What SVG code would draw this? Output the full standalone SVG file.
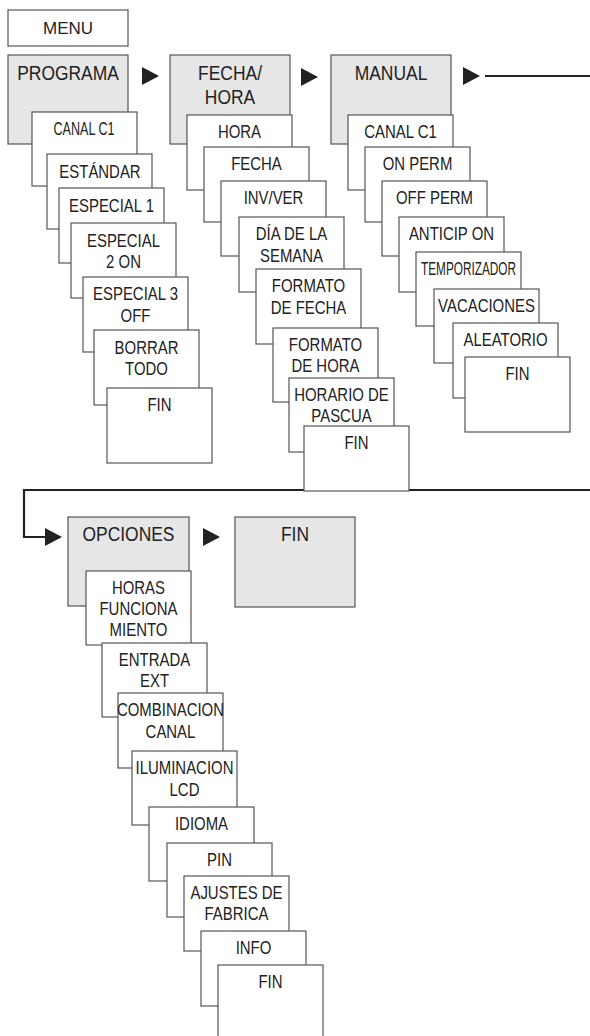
<svg xmlns="http://www.w3.org/2000/svg" width="590" height="1036" viewBox="0 0 590 1036">
<style>
.hd{fill:#e6e6e7;stroke:#555;stroke-width:1.2}
.cd{fill:#fff;stroke:#555;stroke-width:1.2}
.mn{fill:#fff;stroke:#555;stroke-width:1.2}
text{font-family:"Liberation Sans Narrow","Liberation Sans",Arial,sans-serif;fill:#222;text-anchor:middle}
.t{font-size:18px;transform-box:fill-box;transform-origin:center;transform:scaleX(0.83)}
.h{font-size:21px;transform-box:fill-box;transform-origin:center;transform:scaleX(0.83)}
.t0{font-size:18px}
.conn{fill:none;stroke:#222;stroke-width:2.2}
.tri{fill:#222}
</style>
<defs>
<polygon id="tri" points="0,0 17,9 0,18"/>
</defs>
<rect width="590" height="1036" fill="#fff"/>
<g id="menu"><rect class="mn" x="8" y="10" width="120" height="36"/><text x="68" y="34" style="font-size:17px">MENU</text></g>

<g id="connectors">
<path class="conn" d="M485,76 H596 V490 H24 V537 H47"/>
<use href="#tri" class="tri" x="142" y="67"/>
<use href="#tri" class="tri" x="301" y="68"/>
<use href="#tri" class="tri" x="463" y="67"/>
<use href="#tri" class="tri" x="45" y="528"/>
<use href="#tri" class="tri" x="203" y="528"/>
</g>

<!-- PROGRAMA column -->
<g id="programa"><rect class="hd" x="8" y="55" width="120" height="89"/><text class="h" x="68" y="80">PROGRAMA</text></g>
<g id="p-canal"><rect class="cd" x="32" y="112" width="105" height="74"/><text class="t0" x="84" y="135" textLength="61" lengthAdjust="spacingAndGlyphs">CANAL C1</text></g>
<g id="p-estandar"><rect class="cd" x="47" y="154" width="105" height="75"/><text class="t" x="100" y="178">ESTÁNDAR</text></g>
<g id="p-esp1"><rect class="cd" x="59" y="188" width="105" height="75"/><text class="t" x="111.5" y="212">ESPECIAL 1</text></g>
<g id="p-esp2"><rect class="cd" x="71" y="223" width="105" height="75"/><text class="t" x="123.5" y="247">ESPECIAL</text><text class="t" x="123.5" y="268.5">2 ON</text></g>
<g id="p-esp3"><rect class="cd" x="83" y="277" width="105" height="75"/><text class="t" x="135.5" y="300.5">ESPECIAL 3</text><text class="t" x="135.5" y="322.5">OFF</text></g>
<g id="p-borrar"><rect class="cd" x="94" y="330" width="105" height="75"/><text class="t" x="146.5" y="354">BORRAR</text><text class="t" x="146.5" y="375.5">TODO</text></g>
<g id="p-fin"><rect class="cd" x="107" y="388" width="105" height="75"/><text class="t" x="159.5" y="411.5">FIN</text></g>

<!-- FECHA/HORA column -->
<g id="fecha-hora"><rect class="hd" x="170" y="55" width="120" height="89"/><text class="h" x="230" y="80">FECHA/</text><text class="h" x="230" y="104">HORA</text></g>
<g id="f-hora"><rect class="cd" x="187" y="115" width="105" height="75"/><text class="t" x="239.5" y="138.5">HORA</text></g>
<g id="f-fecha"><rect class="cd" x="204" y="147" width="105" height="75"/><text class="t" x="256.5" y="170.5">FECHA</text></g>
<g id="f-invver"><rect class="cd" x="221" y="181" width="105" height="75"/><text class="t" x="273.5" y="204.5">INV/VER</text></g>
<g id="f-dia"><rect class="cd" x="239" y="217" width="105" height="75"/><text class="t" x="291.5" y="240.5">DÍA DE LA</text><text class="t" x="291.5" y="262">SEMANA</text></g>
<g id="f-fmtfecha"><rect class="cd" x="256" y="269" width="105" height="75"/><text class="t" x="308.5" y="292.5">FORMATO</text><text class="t" x="308.5" y="314">DE FECHA</text></g>
<g id="f-fmthora"><rect class="cd" x="273" y="328" width="105" height="74"/><text class="t" x="325.5" y="351">FORMATO</text><text class="t" x="325.5" y="372.5">DE HORA</text></g>
<g id="f-pascua"><rect class="cd" x="289" y="378" width="105" height="74"/><text class="t" x="341.5" y="401">HORARIO DE</text><text class="t" x="341.5" y="422.5">PASCUA</text></g>
<g id="f-fin"><rect class="cd" x="304" y="426" width="105" height="65"/><text class="t" x="356.5" y="449.5">FIN</text></g>

<!-- MANUAL column -->
<g id="manual"><rect class="hd" x="331" y="55" width="120" height="89"/><text class="h" x="391" y="80">MANUAL</text></g>
<g id="m-canal"><rect class="cd" x="348" y="115" width="105" height="75"/><text class="t" x="400.5" y="138.5">CANAL C1</text></g>
<g id="m-onperm"><rect class="cd" x="365" y="147" width="105" height="75"/><text class="t" x="417.5" y="170.5">ON PERM</text></g>
<g id="m-offperm"><rect class="cd" x="382" y="181" width="105" height="75"/><text class="t" x="434.5" y="204.5">OFF PERM</text></g>
<g id="m-anticip"><rect class="cd" x="399" y="217" width="105" height="75"/><text class="t" x="451.5" y="240.5">ANTICIP ON</text></g>
<g id="m-temp"><rect class="cd" x="416" y="252" width="105" height="74"/><text class="t0" x="468.5" y="275" textLength="95" lengthAdjust="spacingAndGlyphs">TEMPORIZADOR</text></g>
<g id="m-vac"><rect class="cd" x="434" y="289" width="105" height="74"/><text class="t" x="486.5" y="312.5">VACACIONES</text></g>
<g id="m-alea"><rect class="cd" x="453" y="323" width="105" height="75"/><text class="t" x="505.5" y="346.5">ALEATORIO</text></g>
<g id="m-fin"><rect class="cd" x="465" y="357" width="105" height="75"/><text class="t" x="517.5" y="380.5">FIN</text></g>

<!-- OPCIONES column -->
<g id="opciones"><rect class="hd" x="68" y="517" width="121" height="89"/><text class="h" x="128.5" y="541">OPCIONES</text></g>
<g id="fin-header"><rect class="hd" x="235" y="517" width="120" height="90"/><text class="h" x="295" y="541.5">FIN</text></g>
<g id="o-horas"><rect class="cd" x="86" y="571" width="105" height="74"/><text class="t" x="138.5" y="594">HORAS</text><text class="t" x="138.5" y="615">FUNCIONA</text><text class="t" x="138.5" y="636">MIENTO</text></g>
<g id="o-entrada"><rect class="cd" x="102" y="643" width="105" height="74"/><text class="t" x="154.5" y="666">ENTRADA</text><text class="t" x="154.5" y="687.5">EXT</text></g>
<g id="o-comb"><rect class="cd" x="118" y="693" width="105" height="75"/><text class="t" x="170.5" y="716.5">COMBINACION</text><text class="t" x="170.5" y="738">CANAL</text></g>
<g id="o-ilum"><rect class="cd" x="132" y="751" width="105" height="74"/><text class="t" x="184.5" y="774.5">ILUMINACION</text><text class="t" x="184.5" y="796">LCD</text></g>
<g id="o-idioma"><rect class="cd" x="149" y="807" width="105" height="74"/><text class="t" x="201.5" y="830">IDIOMA</text></g>
<g id="o-pin"><rect class="cd" x="167" y="843" width="105" height="74"/><text class="t" x="219.5" y="866">PIN</text></g>
<g id="o-ajustes"><rect class="cd" x="184" y="876" width="105" height="75"/><text class="t" x="236.5" y="899">AJUSTES DE</text><text class="t" x="236.5" y="920.5">FABRICA</text></g>
<g id="o-info"><rect class="cd" x="201" y="931" width="105" height="75"/><text class="t" x="253.5" y="954">INFO</text></g>
<g id="o-fin"><rect class="cd" x="218" y="965" width="105" height="80"/><text class="t" x="270.5" y="988">FIN</text></g>
</svg>
